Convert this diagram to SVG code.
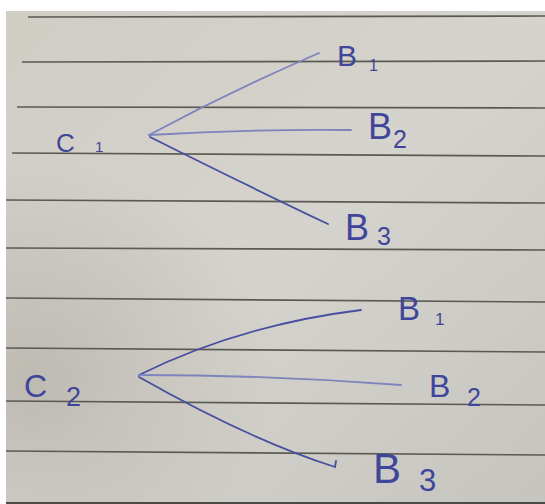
<svg xmlns="http://www.w3.org/2000/svg" width="545" height="504" viewBox="0 0 545 504">
  <defs>
    <linearGradient id="paper" x1="0" y1="0" x2="1" y2="1">
      <stop offset="0" stop-color="#d0cdc5"/>
      <stop offset="0.5" stop-color="#d5d3cd"/>
      <stop offset="1" stop-color="#c6c4be"/>
    </linearGradient>
    <radialGradient id="shade" cx="0.05" cy="0.75" r="0.45">
      <stop offset="0" stop-color="#a8a39a" stop-opacity="0.5"/>
      <stop offset="1" stop-color="#a8a39a" stop-opacity="0"/>
    </radialGradient>
    <style>
      .rule { stroke: #5a5a53; stroke-width: 1.7; fill: none; }
      .ink { fill: none; stroke-width: 1.8; stroke-linecap: round; }
      .light { stroke: #7d84bb; }
      .dark { stroke: #474e9f; }
      .lbl { font-family: "Liberation Sans", "DejaVu Sans", sans-serif; fill: #3f4699; }
    </style>
  </defs>

  <rect width="545" height="504" fill="#ffffff"/>
  <rect x="6" y="11" width="539" height="493" fill="url(#paper)"/>
  <rect x="6" y="11" width="539" height="493" fill="url(#shade)"/>
  <line x1="6" y1="503" x2="545" y2="503" stroke="#4a4a46" stroke-width="2"/>

  <g id="ruling">
    <path class="rule" d="M28,17 L545,16"/>
    <path class="rule" d="M22,62 L545,61"/>
    <path class="rule" d="M17,107 L545,108"/>
    <path class="rule" d="M12,153 L545,156"/>
    <path class="rule" d="M6,200 L545,203"/>
    <path class="rule" d="M6,248 L545,250"/>
    <path class="rule" d="M6,298 L545,302"/>
    <path class="rule" d="M6,348 L545,352"/>
    <path class="rule" d="M6,401 L545,405"/>
    <path class="rule" d="M6,451 L545,455"/>
  </g>

  <g id="connectors">
    <path class="ink light" d="M149,135 Q231,91 319,53"/>
    <path class="ink light" d="M149,135 Q250,129 351,130"/>
    <path class="ink dark" d="M150,137 Q250,187 328,224"/>
    <path class="ink dark" d="M139,375 Q240,325 361,310"/>
    <path class="ink light" d="M139,375 Q270,375 401,385"/>
    <path class="ink dark" d="M139,377 Q250,440 335,467 L336,461"/>
  </g>

  <g id="C1">
    <text class="lbl" x="56" y="152" font-size="26">C</text>
    <text class="lbl" x="95" y="152" font-size="15">1</text>
  </g>
  <g id="B1-top">
    <text class="lbl" x="337" y="66" font-size="30">B</text>
    <text class="lbl" x="369" y="71" font-size="16">1</text>
  </g>
  <g id="B2-top">
    <text class="lbl" x="368" y="139" font-size="36">B</text>
    <text class="lbl" x="393" y="148" font-size="25">2</text>
  </g>
  <g id="B3-top">
    <text class="lbl" x="345" y="240" font-size="36">B</text>
    <text class="lbl" x="377" y="245" font-size="25">3</text>
  </g>

  <g id="C2">
    <text class="lbl" x="24" y="397" font-size="32">C</text>
    <text class="lbl" x="66" y="406" font-size="27">2</text>
  </g>
  <g id="B1-bottom">
    <text class="lbl" x="398" y="320" font-size="33">B</text>
    <text class="lbl" x="435" y="325" font-size="17">1</text>
  </g>
  <g id="B2-bottom">
    <text class="lbl" x="429" y="397" font-size="32">B</text>
    <text class="lbl" x="467" y="406" font-size="25">2</text>
  </g>
  <g id="B3-bottom">
    <text class="lbl" x="373" y="483" font-size="42">B</text>
    <text class="lbl" x="419" y="491" font-size="31">3</text>
  </g>
</svg>
